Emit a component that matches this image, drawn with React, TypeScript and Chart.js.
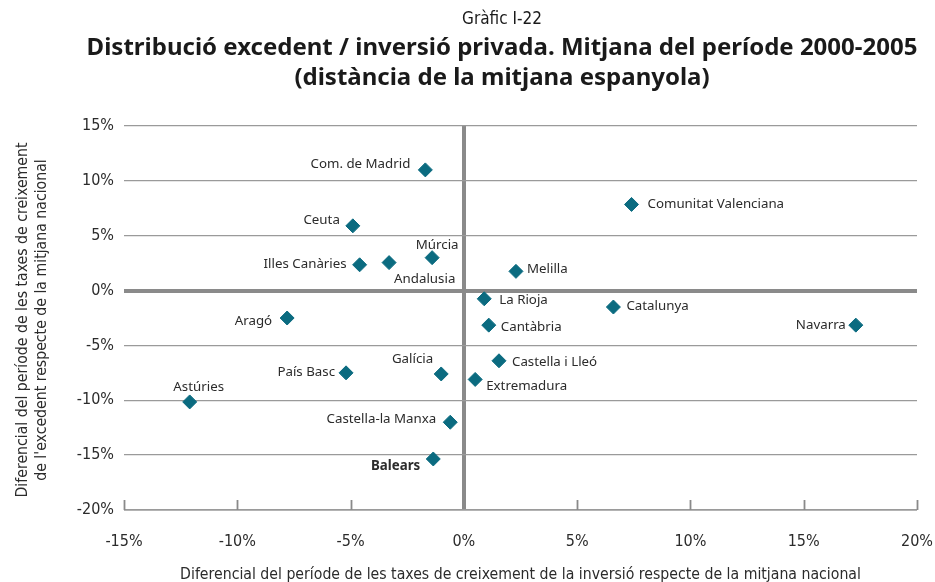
import React, { useEffect, useRef } from 'react';
import { Chart, registerables } from 'chart.js';

Chart.register(...registerables);

// ---- Data ----
const regions = [
  'Com. de Madrid', 'Ceuta', 'Illes Canàries', 'Andalusia', 'Múrcia', 'Aragó',
  'Melilla', 'La Rioja', 'Cantàbria', 'Catalunya', 'Navarra', 'Comunitat Valenciana',
  'Castella i Lleó', 'Extremadura', 'País Basc', 'Galícia', 'Astúries',
  'Castella-la Manxa', 'Balears',
];
const investmentDiff = [
  -1.7, -4.9, -4.6, -3.3, -1.4, -7.8,
  2.3, 0.9, 1.1, 6.6, 17.3, 7.4,
  1.55, 0.5, -5.2, -1.0, -12.1,
  -0.6, -1.35,
];
const surplusDiff = [
  11.0, 5.9, 2.35, 2.55, 3.0, -2.5,
  1.75, -0.75, -3.15, -1.5, -3.15, 7.85,
  -6.4, -8.1, -7.5, -7.6, -10.15,
  -12.0, -15.35,
];
const xTickValues = [-15, -10, -5, 0, 5, 10, 15, 20];
const yTickValues = [-20, -15, -10, -5, 0, 5, 10, 15];

const chartLabel = 'Gràfic I-22';
const titleLines = [
  'Distribució excedent / inversió privada. Mitjana del període 2000-2005',
  '(distància de la mitjana espanyola)',
];
const xAxisTitle = 'Diferencial del període de les taxes de creixement de la inversió respecte de la mitjana nacional';
const yAxisTitle = [
  'Diferencial del període de les taxes de creixement',
  "de l'excedent respecte de la mitjana nacional",
];

// label placement: [dx, dy, align, bold]
const labelPlacement: [number, number, CanvasTextAlign, boolean][] = [
  [-15, -6, 'right', false],
  [-13, -6, 'right', false],
  [-13, -1, 'right', false],
  [5, 17, 'left', false],
  [5, -12, 'center', false],
  [-15, 3, 'right', false],
  [11, -2, 'left', false],
  [15, 1, 'left', false],
  [12, 2, 'left', false],
  [13, -1, 'left', false],
  [-10, 0, 'right', false],
  [16, 0, 'left', false],
  [13, 1, 'left', false],
  [11, 7, 'left', false],
  [-11, -1, 'right', false],
  [-8, -15, 'right', false],
  [9, -15, 'center', false],
  [-14, -3, 'right', false],
  [-13, 7, 'right', true],
];

const NARROW = '"Liberation Sans Narrow", "DejaVu Sans Condensed", "Roboto Condensed", sans-serif';
const LABEL_FONT = '"Noto Sans", "Open Sans", sans-serif';
const GRID = '#9a9a9a';
const AXIS = '#8a8a8a';
const POINT = '#0b6b80';

const decorPlugin = {
  id: 'decor',
  beforeDatasetsDraw(chart: any) {
    const { ctx, chartArea, scales } = chart;
    ctx.save();
    ctx.strokeStyle = AXIS;
    ctx.lineWidth = 1.8;
    xTickValues.forEach((v) => {
      if (v === 0) return;
      const px = Math.round(scales.x.getPixelForValue(v)) + 0.5;
      ctx.beginPath();
      ctx.moveTo(px, chartArea.bottom - 10);
      ctx.lineTo(px, chartArea.bottom);
      ctx.stroke();
    });
    ctx.restore();
  },
  afterDatasetsDraw(chart: any) {
    const { ctx } = chart;
    const meta = chart.getDatasetMeta(0);
    ctx.save();
    ctx.fillStyle = '#2b2b2b';
    ctx.textBaseline = 'middle';
    meta.data.forEach((el: any, i: number) => {
      const [dx, dy, align, bold] = labelPlacement[i];
      ctx.font = `${bold ? 'bold ' : ''}13.3px ${LABEL_FONT}`;
      ctx.textAlign = align;
      ctx.fillText(regions[i], el.x + dx, el.y + dy);
    });
    ctx.restore();
  },
  afterDraw(chart: any) {
    const { ctx, chartArea } = chart;
    ctx.save();
    ctx.fillStyle = '#1a1a1a';
    ctx.textAlign = 'center';
    ctx.textBaseline = 'middle';
    const cx = 502;
    ctx.font = `17px ${NARROW}`;
    ctx.fillText(chartLabel, cx, 20);
    ctx.font = `bold 24px "Noto Sans", "Open Sans", sans-serif`;
    ctx.fillText(titleLines[0], cx, 48);
    ctx.fillText(titleLines[1], cx, 78);

    ctx.fillStyle = '#2b2b2b';
    ctx.font = `15.7px ${NARROW}`;
    ctx.fillText(xAxisTitle, (chartArea.left + chartArea.right) / 2, 575);

    const cy = (chartArea.top + chartArea.bottom) / 2 + 2;
    ctx.translate(0, cy);
    ctx.rotate(-Math.PI / 2);
    ctx.fillText(yAxisTitle[0], 0, 23);
    ctx.fillText(yAxisTitle[1], 0, 42);
    ctx.restore();
  },
};

export default function App() {
  const canvasRef = useRef<HTMLCanvasElement | null>(null);

  useEffect(() => {
    document.body.style.margin = '0';
    const canvas = canvasRef.current;
    if (!canvas) return;
    const chart = new Chart(canvas, {
      type: 'scatter',
      data: {
        datasets: [
          {
            label: 'Comunitats',
            data: investmentDiff.map((x, i) => ({ x, y: surplusDiff[i] })),
            pointStyle: 'rectRot',
            pointRadius: 7,
            pointHoverRadius: 7,
            backgroundColor: POINT,
            borderColor: POINT,
            borderWidth: 1,
          },
        ],
      },
      options: {
        animation: false,
        responsive: false,
        maintainAspectRatio: false,
        layout: { padding: { top: 126, left: 0, right: 18, bottom: 0 } },
        plugins: {
          legend: { display: false },
          tooltip: { enabled: false },
          title: { display: false },
        },
        scales: {
          x: {
            type: 'linear',
            min: -15,
            max: 20,
            afterFit: (s: any) => { s.height = 72; s.paddingRight = 0; s.paddingLeft = 0; },
            afterBuildTicks: (s: any) => { s.ticks = xTickValues.map((v) => ({ value: v })); },
            ticks: {
              padding: 22,
              color: '#2b2b2b',
              font: { family: NARROW, size: 16 },
              callback: (v: any) => `${v}%`,
            },
            border: { display: false },
            grid: {
              drawTicks: false,
              color: (c: any) => (c.tick && c.tick.value === 0 ? AXIS : 'rgba(0,0,0,0)'),
              lineWidth: (c: any) => (c.tick && c.tick.value === 0 ? 4 : 0),
            },
          },
          y: {
            type: 'linear',
            min: -20,
            max: 15,
            afterFit: (s: any) => { s.width = 124; s.paddingTop = 0; s.paddingBottom = 0; },
            afterBuildTicks: (s: any) => { s.ticks = yTickValues.map((v) => ({ value: v })); },
            ticks: {
              padding: 10,
              color: '#2b2b2b',
              font: { family: NARROW, size: 16 },
              callback: (v: any) => `${v}%`,
            },
            border: { display: false },
            grid: {
              drawTicks: false,
              color: (c: any) => (c.tick && c.tick.value === 0 ? AXIS : GRID),
              lineWidth: (c: any) => {
                const v = c.tick ? c.tick.value : 1;
                if (v === 0) return 4;
                if (v === -20) return 1.8;
                return 1.3;
              },
            },
          },
        },
      },
      plugins: [decorPlugin],
    });
    return () => chart.destroy();
  }, []);

  return (
    <div style={{ position: 'fixed', left: 0, top: 0, width: 935, height: 582, background: '#fff' }}>
      <canvas ref={canvasRef} width={935} height={582} />
    </div>
  );
}
